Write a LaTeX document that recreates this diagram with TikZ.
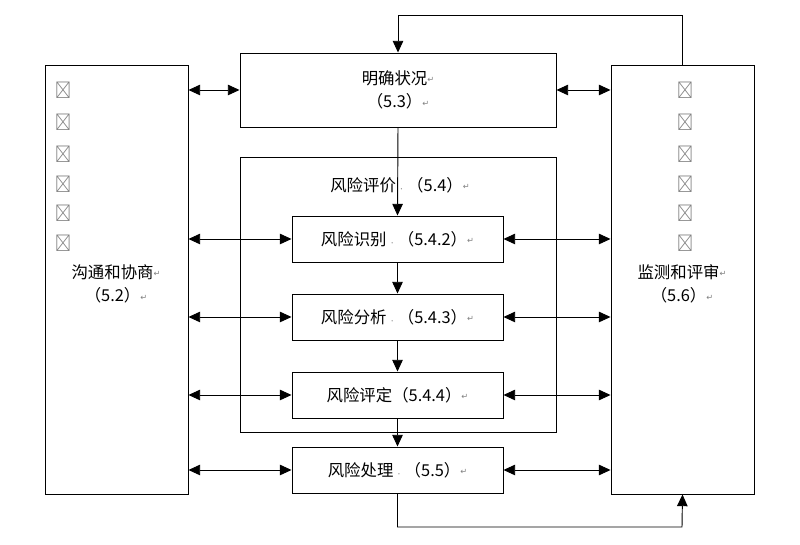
\documentclass[tikz,border=0pt]{standalone}
\usepackage{fontspec}
\newfontfamily\cjk{Noto Sans CJK SC}
\newfontfamily\symb{DejaVu Sans}
\usetikzlibrary{arrows.meta}
\usetikzlibrary{positioning}
\newcommand{\ret}{\raisebox{0.2ex}{\symb\fontsize{7}{7}\selectfont\color{gray}↵}}
\newcommand{\spc}{\,{\color{gray}\tiny·}\,}
\tikzset{every text node part/.style={align=center, font={\cjk\fontsize{14}{20}\selectfont}}}
\tikzstyle{box} = [draw, thick, inner sep=0pt]
\tikzstyle{line} = [draw, thick, -{Triangle[length=10pt,width=9pt]}]
\tikzstyle{both} = [draw, thick, {Triangle[length=10pt,width=9pt]}-{Triangle[length=10pt,width=9pt]}]
\tikzstyle{retmark} = [font={\symb\fontsize{8}{8}\selectfont}, gray]

\begin{document}
\begin{tikzpicture}[x=0.03cm, y=-0.03cm]
  \useasboundingbox (0,0) rectangle (800,545);

  % Define side blocks
  \node[box, minimum width=4.29cm, minimum height=12.87cm] (comm) at (116.5,279.5) {};
  \node[box, minimum width=4.29cm, minimum height=12.87cm] (monitor) at (682.5,279.5) {};
  \node at (116,284) {沟通和协商\ret\\（5.2）\ret};
  \node at (682,284) {监测和评审\ret\\（5.6）\ret};
  \foreach \y in {90,122,154,184,213,243} {
    \node[retmark] at (63,\y) {↵};
    \node[retmark] at (685,\y) {↵};
  }

  % Define context block
  \node[box, minimum width=9.48cm, minimum height=2.22cm] (context) at (398,90)
    {明确状况\ret\\（5.3）\ret};

  % Define assessment frame
  \node[box, minimum width=9.48cm, minimum height=8.25cm] (assess) at (398,294.5) {};
  \node at (400,185) {风险评价\spc（5.4）\ret};

  % Define inner blocks
  \node[box, minimum width=6.33cm, minimum height=1.38cm] (ident) at (397.5,239) {风险识别\spc（5.4.2）\ret};
  \node[box, minimum width=6.33cm, minimum height=1.38cm] (analysis) at (397.5,317) {风险分析\spc（5.4.3）\ret};
  \node[box, minimum width=6.33cm, minimum height=1.38cm] (evaluation) at (397.5,395) {风险评定（5.4.4）\ret};
  \node[box, minimum width=6.33cm, minimum height=1.38cm] (treatment) at (397.5,470) {风险处理\spc（5.5）\ret};

  % Draw lines
  \draw[line] (context.south) -- (ident.north);
  \draw[line] (ident) -- (analysis);
  \draw[line] (analysis) -- (evaluation);
  \draw[line] (evaluation) -- (treatment);

  \draw[both] (comm.east |- context) -- (context.west);
  \draw[both] (context.east) -- (monitor.west |- context);
  \foreach \n in {ident, analysis, evaluation, treatment} {
    \draw[both] (comm.east |- \n) -- (\n.west);
    \draw[both] (\n.east) -- (monitor.west |- \n);
  }

  \draw[line] (monitor.north) |- (398,15) -- (context.north);
  \draw[line] (treatment.south) |- (682,527) -- (monitor.south);
\end{tikzpicture}
\end{document}
